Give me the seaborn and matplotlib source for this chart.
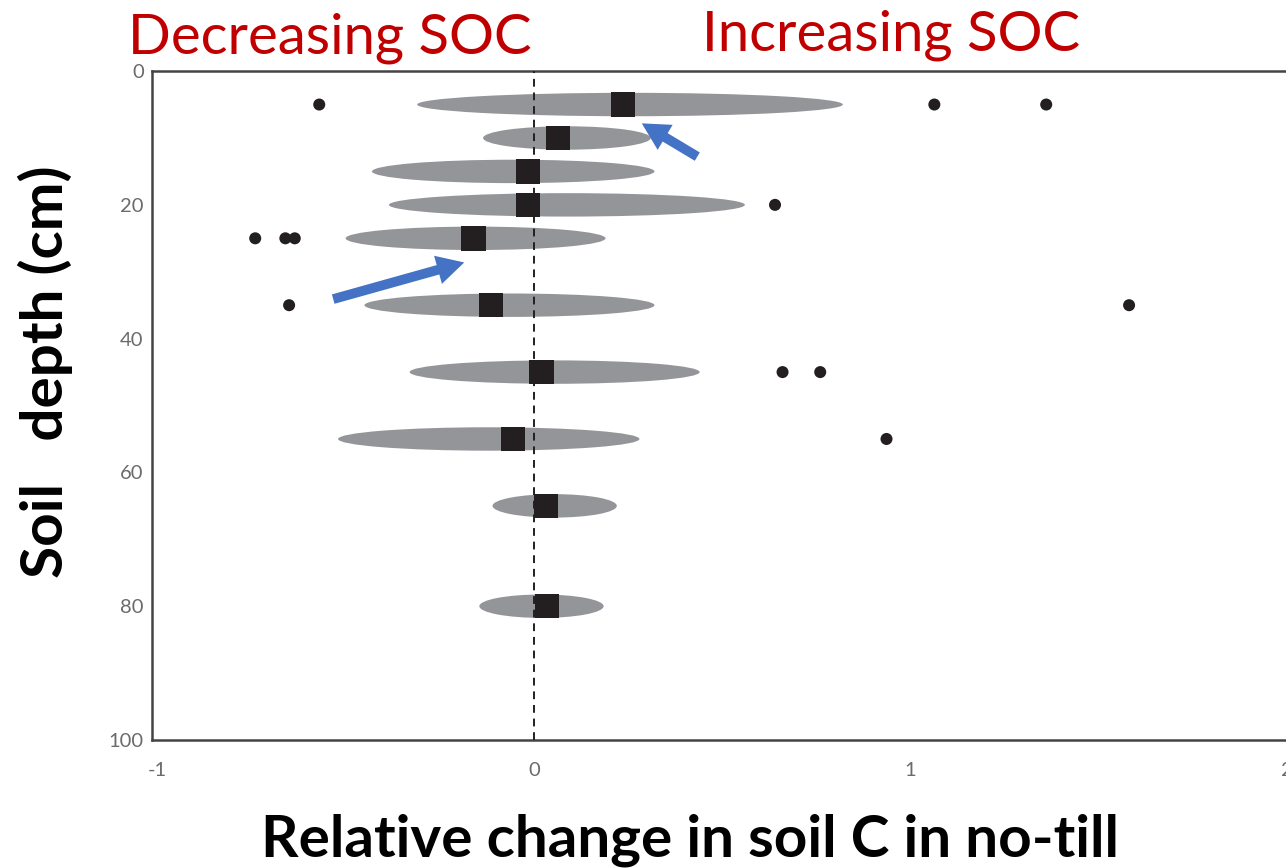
import numpy as np
import pandas as pd
import matplotlib
matplotlib.use("Agg")
import matplotlib.pyplot as plt
from matplotlib.patches import Ellipse
import seaborn as sns

# ---- data ----
depths = [5, 10, 15, 20, 25, 35, 45, 55, 65, 80]
means = [0.236, 0.064, -0.016, -0.016, -0.16, -0.114, 0.020, -0.056, 0.032, 0.035]
lower = [-0.31, -0.135, -0.43, -0.385, -0.50, -0.45, -0.33, -0.52, -0.11, -0.145]
upper = [0.82, 0.31, 0.32, 0.56, 0.19, 0.32, 0.44, 0.28, 0.22, 0.185]

out_depth = [5, 5, 5, 20, 25, 25, 25, 35, 35, 45, 45, 55]
out_x = [-0.57, 1.063, 1.36, 0.64, -0.74, -0.66, -0.635, -0.65, 1.58, 0.66, 0.76, 0.936]

xticks = [-1, 0, 1, 2]
yticks_major = [0, 20, 40, 60, 80, 100]
yticks_minor = [10, 30, 50, 70, 90]

# ---- style ----
sns.set_style("white")
plt.rcParams["font.family"] = ["Lato", "DejaVu Sans"]

fig = plt.figure(figsize=(12.86, 8.68), dpi=100)
ax = fig.add_axes([0.1182, 0.1475, 0.8828, 0.7706])

df_mean = pd.DataFrame({"x": means, "depth": depths})
df_out = pd.DataFrame({"x": out_x, "depth": out_depth})

# spindle shaped ranges
for d, lo, hi in zip(depths, lower, upper):
    ax.add_patch(Ellipse(((lo + hi) / 2, d), hi - lo, 3.5,
                         facecolor="#939598", edgecolor="none", zorder=2))

ax.axvline(0, color="#231f20", linestyle=(0, (4, 3)), linewidth=1.4, zorder=3)

sns.scatterplot(data=df_mean, x="x", y="depth", marker="s", s=310,
                color="#231f20", edgecolor="none", linewidth=0, ax=ax, zorder=4)
sns.scatterplot(data=df_out, x="x", y="depth", marker="o", s=75,
                color="#231f20", edgecolor="none", linewidth=0, ax=ax, zorder=4)

ax.set_xlim(-1.014, 2.0)
ax.set_ylim(100, 0)

ax.set_xticks(xticks)
ax.set_xticklabels(["-1", "0", "1", "2"])
ax.set_yticks(yticks_major)
ax.set_yticks(yticks_minor, minor=True)
ax.tick_params(axis="both", which="both", direction="in", color="#333333",
               labelcolor="#6b6b6b", labelsize=14.5)
ax.tick_params(axis="y", which="both", length=12, width=1.4, pad=6)
ax.tick_params(axis="x", which="both", length=10, width=1.2, pad=16)

for side in ["left", "bottom", "top", "right"]:
    ax.spines[side].set_color("#444444")
    ax.spines[side].set_linewidth(1.8)

ax.set_xlabel("Relative change in soil C in no-till", fontsize=42,
              fontweight="bold", color="black", va="center")
ax.xaxis.set_label_coords(0.474, -0.1495)
ax.set_ylabel("Soil   depth (cm)", fontsize=42, fontweight="bold",
              color="black", va="center")
ax.yaxis.set_label_coords(-0.0943, 0.550)

# header texts
fig.text(330 / 1286, 1 - 38 / 868, "Decreasing SOC", color="#C00000",
         fontsize=40.5, ha="center", va="center")
fig.text(891 / 1286, 1 - 35 / 868, "Increasing SOC", color="#C00000",
         fontsize=40.5, ha="center", va="center")

# blue arrows
arrow_kw = dict(arrowstyle="simple,head_length=1.4,head_width=1.5,tail_width=0.5",
                color="#4472C4", lw=0, mutation_scale=14)
ax.annotate("", xy=(0.28, 7.6), xytext=(0.44, 13.0),
            arrowprops=arrow_kw, zorder=5)
ax.annotate("", xy=(-0.178, 28.5), xytext=(-0.54, 34.2),
            arrowprops=arrow_kw, zorder=5)

fig.savefig("out.png", dpi=100)
